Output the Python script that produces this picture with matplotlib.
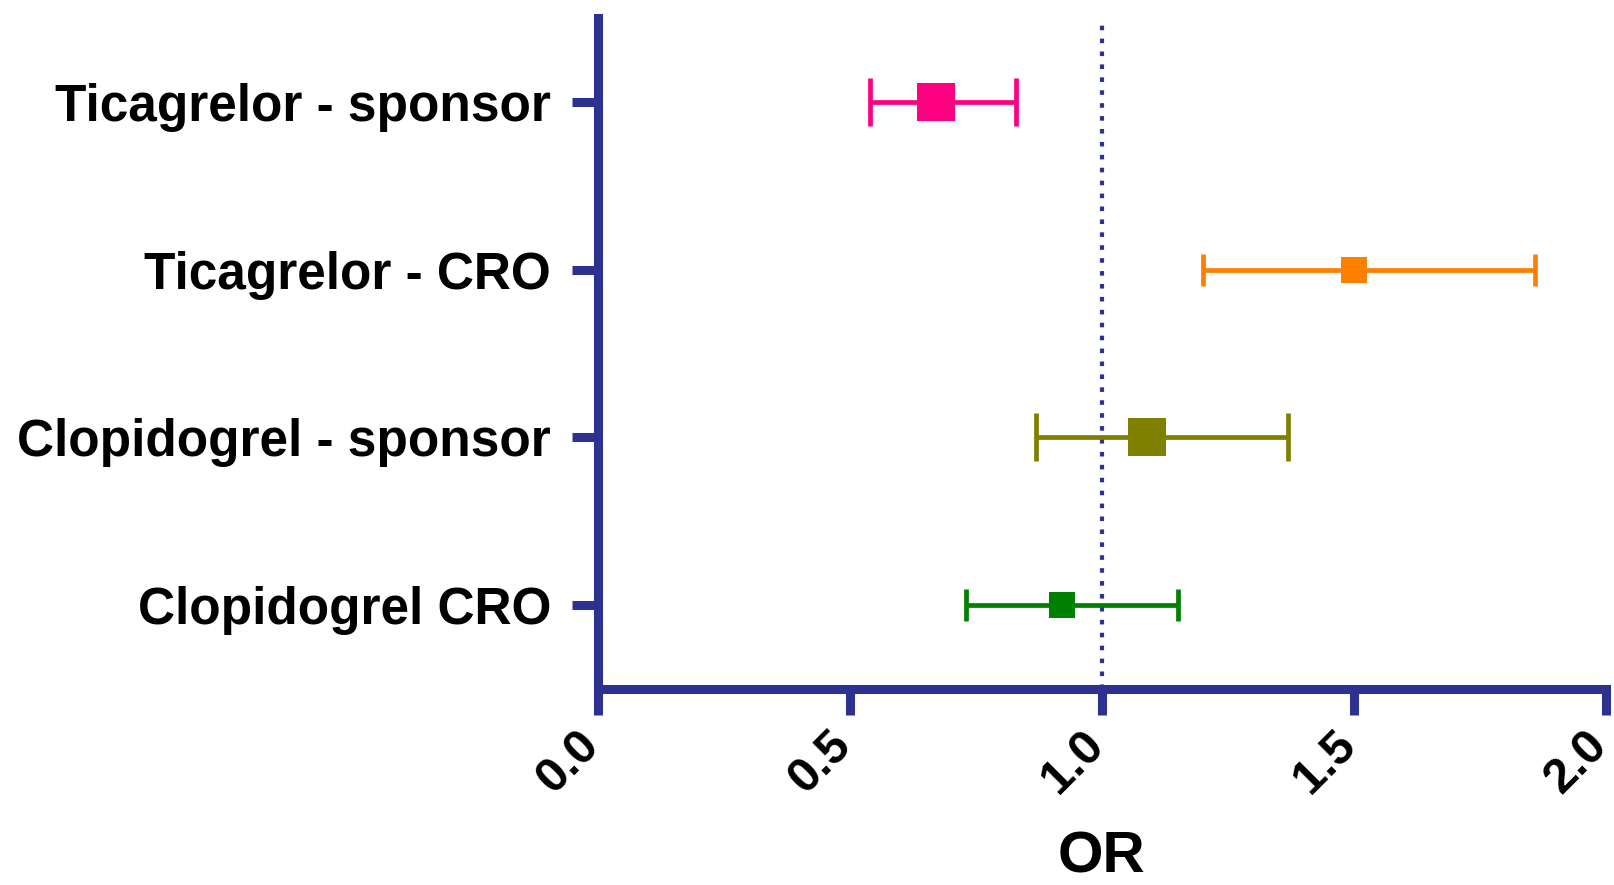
import matplotlib.pyplot as plt
import matplotlib.transforms as mtransforms
import numpy as np

plt.rcParams['font.family'] = ['Liberation Sans', 'DejaVu Sans']

groups = ['Ticagrelor - sponsor', 'Ticagrelor - CRO',
          'Clopidogrel - sponsor', 'Clopidogrel CRO']
odds = [0.67, 1.50, 1.09, 0.92]
lower = [0.54, 1.20, 0.87, 0.73]
upper = [0.83, 1.86, 1.37, 1.15]
colors = ['#ff0080', '#ff7f00', '#808000', '#008000']
msizes = [28, 19, 28, 19]
caps = [17, 11.5, 17, 11.5]

navy = '#2d3190'

fig = plt.figure(figsize=(16.15, 8.85), dpi=100)
ax = fig.add_axes([598/1615, 1-689/885, (1606-598)/1615, (689-18)/885])

ypos = np.arange(len(groups))[::-1] + 1
for y, m, lo, hi, c, ms, cs in zip(ypos, odds, lower, upper, colors, msizes, caps):
    ax.errorbar(m, y, xerr=[[m - lo], [hi - m]], fmt='none', ecolor=c,
                elinewidth=3.4, capsize=cs, capthick=3.4)
    ax.plot(m, y, 's', color=c, ms=ms, mew=0, zorder=3)

ax.axvline(1.0, color=navy, lw=3, linestyle=(0, (1.1, 2)), zorder=0)

ax.set_xlim(0, 2)
ax.set_ylim(0.5, 4.5)
ax.set_xticks([0, 0.5, 1.0, 1.5, 2.0])
ax.set_xticklabels(['0.0', '0.5', '1.0', '1.5', '2.0'], rotation=45,
                   ha='right', va='center', rotation_mode='anchor')
ax.set_yticks(ypos)
ax.set_yticklabels(groups)

for side in ['top', 'right']:
    ax.spines[side].set_visible(False)
for side in ['left', 'bottom']:
    ax.spines[side].set_color(navy)
    ax.spines[side].set_linewidth(6.5)
    ax.spines[side].set_capstyle('projecting')

ax.tick_params(axis='both', colors=navy, width=6.5, length=18.7)
ax.tick_params(axis='y', labelcolor='black', labelsize=37, pad=15)
ax.tick_params(axis='x', labelcolor='black', labelsize=35, pad=17)

# nudge rotated tick labels a little left so the last one stays inside
nudge = mtransforms.ScaledTranslation(-4/72, 0, fig.dpi_scale_trans)
for t in ax.get_xticklabels():
    t.set_transform(t.get_transform() + nudge)
for t in ax.get_yticklabels() + ax.get_xticklabels():
    t.set_fontweight('bold')

ax.set_xlabel('OR', fontsize=42, fontweight='bold', labelpad=20)

fig.savefig('out.png', dpi=100)
